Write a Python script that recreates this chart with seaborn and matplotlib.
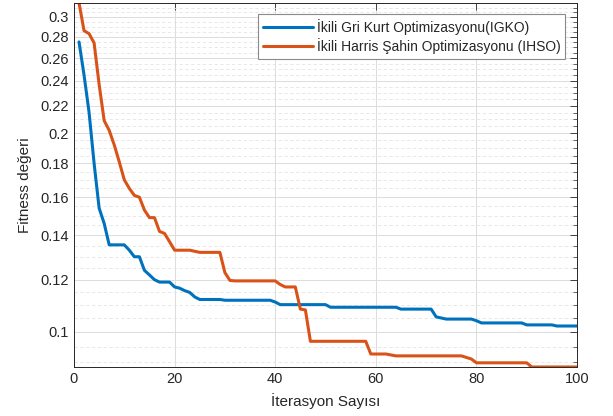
import numpy as np
import pandas as pd
import seaborn as sns
import matplotlib.pyplot as plt
from matplotlib.ticker import FixedLocator, FuncFormatter, NullFormatter

# convergence curves (iterations 1..100)
iterations = list(range(1, 101))

igko = [0.275, 0.245, 0.215, 0.180, 0.154, 0.146, 0.1355, 0.1355, 0.1355, 0.1355,
        0.133, 0.130, 0.130, 0.124, 0.122, 0.120, 0.119, 0.119, 0.119, 0.117,
        0.1165, 0.1155, 0.1148, 0.113, 0.112, 0.112, 0.112, 0.112, 0.112, 0.1117,
        0.1117, 0.1117, 0.1117, 0.1117, 0.1117, 0.1117, 0.1117, 0.1117, 0.1117, 0.111,
        0.110, 0.110, 0.110, 0.110, 0.110, 0.110, 0.110, 0.110, 0.110, 0.110,
        0.109, 0.109, 0.109, 0.109, 0.109, 0.109, 0.109, 0.109, 0.109, 0.109,
        0.109, 0.109, 0.109, 0.109, 0.1083, 0.1083, 0.1083, 0.1083, 0.1083, 0.1083,
        0.1083, 0.1054, 0.105, 0.1046, 0.1046, 0.1046, 0.1046, 0.1046, 0.1046, 0.104,
        0.1032, 0.1032, 0.1032, 0.1032, 0.1032, 0.1032, 0.1032, 0.1032, 0.1032, 0.1025,
        0.1025, 0.1025, 0.1025, 0.1025, 0.1025, 0.1021, 0.1021, 0.1021, 0.1021, 0.1021]

ihso = [0.315, 0.286, 0.283, 0.274, 0.237, 0.209, 0.202, 0.192, 0.181, 0.170,
        0.165, 0.161, 0.160, 0.153, 0.149, 0.149, 0.142, 0.141, 0.137, 0.133,
        0.133, 0.133, 0.133, 0.1325, 0.132, 0.132, 0.132, 0.132, 0.132, 0.123,
        0.1197, 0.1195, 0.1195, 0.1195, 0.1195, 0.1195, 0.1195, 0.1195, 0.1195, 0.1195,
        0.118, 0.117, 0.117, 0.117, 0.1083, 0.108, 0.0968, 0.0968, 0.0968, 0.0968,
        0.0968, 0.0968, 0.0968, 0.0968, 0.0968, 0.0968, 0.0968, 0.0968, 0.0926, 0.0926,
        0.0926, 0.0926, 0.0923, 0.092, 0.092, 0.092, 0.092, 0.092, 0.092, 0.092,
        0.092, 0.092, 0.092, 0.092, 0.092, 0.092, 0.092, 0.0915, 0.091, 0.0898,
        0.0898, 0.0898, 0.0898, 0.0898, 0.0898, 0.0898, 0.0898, 0.0898, 0.0898, 0.0898,
        0.0885, 0.0885, 0.0885, 0.0885, 0.0885, 0.0885, 0.0885, 0.0885, 0.0885, 0.0885]

labels = ["İkili Gri Kurt Optimizasyonu(IGKO)", "İkili Harris Şahin Optimizasyonu (IHSO)"]
colors = ["#0072BD", "#D95319"]
y_ticks = [0.1, 0.12, 0.14, 0.16, 0.18, 0.2, 0.22, 0.24, 0.26, 0.28, 0.3]
x_ticks = [0, 20, 40, 60, 80, 100]

df = pd.DataFrame({"iter": iterations * 2,
                   "fitness": igko + ihso,
                   "algo": [labels[0]] * 100 + [labels[1]] * 100})

sns.set_style("white")
plt.rcParams["font.family"] = ["Liberation Sans", "DejaVu Sans"]

fig = plt.figure(figsize=(6.13, 4.16), dpi=100)
ax = fig.add_axes([0.1207, 0.1178, 0.8206, 0.875])

sns.lineplot(data=df, x="iter", y="fitness", hue="algo", palette=colors,
             linewidth=2.2, ax=ax)

ax.set_yscale("log")
ax.set_xlim(0, 100)
ax.set_ylim(min(ihso), max(ihso))

ax.yaxis.set_major_locator(FixedLocator(y_ticks))
ax.yaxis.set_major_formatter(FuncFormatter(lambda v, p: f"{v:g}"))
minor = [m for m in np.arange(0.085, 0.32, 0.005)
         if all(abs(m - t) > 1e-6 for t in y_ticks)]
ax.yaxis.set_minor_locator(FixedLocator(minor))
ax.yaxis.set_minor_formatter(NullFormatter())
ax.set_xticks(x_ticks)

ax.grid(True, which="major", color="#dcdcdc", linewidth=0.7)
ax.grid(True, which="minor", axis="y", color="#e4e4e4", linewidth=0.6, linestyle=(0, (4, 3)))
ax.set_axisbelow(True)

ax.tick_params(which="both", direction="in", top=True, right=True,
               colors="#262626", labelsize=10.5)
ax.tick_params(which="major", length=5, width=0.6)
ax.tick_params(which="minor", length=3, width=0.5)
for s in ax.spines.values():
    s.set_color("#262626")
    s.set_linewidth(0.7)

ax.set_xlabel("İterasyon Sayısı", fontsize=11, color="#262626", labelpad=5)
ax.set_ylabel("Fitness değeri", fontsize=11, color="#262626", labelpad=6)

leg = ax.legend(loc="upper right", bbox_to_anchor=(0.977, 0.97), borderaxespad=0,
                fontsize=10, frameon=True, fancybox=False, framealpha=1,
                edgecolor="#8a8a8a", handlelength=3.6, handletextpad=0.3,
                borderpad=0.35, labelspacing=0.25)
leg.get_frame().set_linewidth(0.8)
for t in leg.get_texts():
    t.set_color("#262626")

fig.savefig("out.png", dpi=100)
